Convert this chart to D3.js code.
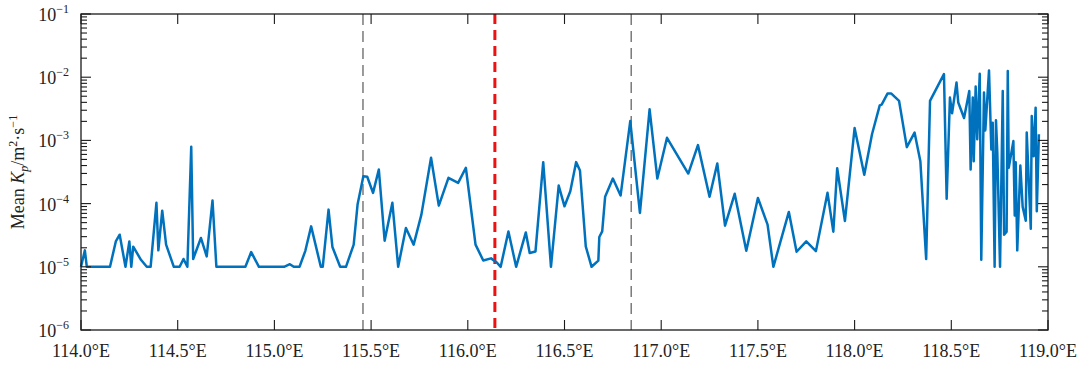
<!DOCTYPE html>
<html><head><meta charset="utf-8">
<script src="https://cdn.jsdelivr.net/npm/d3@7"></script>
<style>
body{margin:0;background:#fff;}
text{font-family:"Liberation Serif","Times New Roman",serif;fill:#222;}
</style></head>
<body><svg id="c" width="1083" height="365"></svg>
<script>
const lon = [114.00,114.02,114.03,114.15,114.18,114.20,114.23,114.25,114.26,114.27,114.31,114.34,114.36,114.39,114.40,114.42,114.44,114.48,114.51,114.53,114.55,114.57,114.58,114.62,114.65,114.68,114.70,114.85,114.88,114.92,115.05,115.08,115.10,115.13,115.16,115.19,115.24,115.25,115.28,115.30,115.34,115.37,115.41,115.43,115.46,115.48,115.51,115.54,115.57,115.61,115.64,115.68,115.72,115.76,115.81,115.85,115.90,115.95,115.99,116.04,116.08,116.12,116.15,116.17,116.21,116.25,116.30,116.32,116.35,116.39,116.43,116.47,116.50,116.53,116.56,116.58,116.61,116.64,116.675,116.68,116.695,116.71,116.75,116.79,116.84,116.89,116.94,116.98,117.03,117.14,117.19,117.25,117.29,117.33,117.38,117.44,117.50,117.55,117.58,117.66,117.70,117.75,117.80,117.86,117.89,117.91,117.95,118.00,118.05,118.09,118.13,118.14,118.17,118.19,118.23,118.27,118.31,118.34,118.37,118.39,118.462,118.476,118.493,118.504,118.527,118.536,118.566,118.593,118.600,118.611,118.616,118.626,118.634,118.647,118.655,118.669,118.676,118.695,118.707,118.714,118.724,118.731,118.738,118.752,118.766,118.773,118.786,118.792,118.797,118.821,118.828,118.833,118.841,118.857,118.869,118.885,118.890,118.911,118.916,118.926,118.936,118.942,118.953];
const kp = [1e-5,1.82e-5,1e-5,1e-5,2.52e-5,3.22e-5,1e-5,2.52e-5,1e-5,2.08e-5,1.29e-5,1e-5,1e-5,1.03e-4,1.82e-5,7.74e-5,2.24e-5,1e-5,1e-5,1.33e-5,1e-5,7.94e-4,1.33e-5,2.86e-5,1.46e-5,1.12e-4,1e-5,1e-5,1.71e-5,1e-5,1e-5,1.1e-5,1e-5,1e-5,1.79e-5,4.36e-5,1e-5,1e-5,8.03e-5,2.06e-5,1e-5,1e-5,2.24e-5,9.64e-5,2.71e-4,2.66e-4,1.48e-4,3.46e-4,2.59e-5,1.03e-4,1e-5,4.11e-5,2.24e-5,6.69e-5,5.31e-4,9.29e-5,2.56e-4,2.13e-4,3.69e-4,2.24e-5,1.26e-5,1.36e-5,1.17e-5,1e-5,3.63e-5,1e-5,3.5e-5,1.65e-5,1.75e-5,4.53e-4,1e-5,1.93e-4,9.06e-5,1.57e-4,4.53e-4,3.34e-4,2.1e-5,1e-5,1.25e-5,2.96e-5,3.63e-5,1.28e-4,2.49e-4,1.34e-4,2.02e-3,7.11e-5,3.1e-3,2.49e-4,1.1e-3,2.99e-4,8.42e-4,1.28e-4,4.31e-4,4.48e-5,1.43e-4,1.79e-5,1.23e-4,4.64e-5,1e-5,7.38e-5,1.73e-5,2.52e-5,1.77e-5,1.48e-4,3.6e-5,3.63e-4,5.31e-5,1.57e-3,2.86e-4,1.25e-3,3.59e-3,3.69e-3,5.51e-3,5.51e-3,4.21e-3,7.83e-4,1.33e-3,4.69e-4,1.33e-5,4.21e-3,1.12e-2,1.19e-4,4.76e-3,2.68e-3,8.24e-3,3.97e-3,2.26e-3,6.06e-3,3.46e-4,4.76e-3,4.69e-4,7.12e-3,1.04e-3,1.13e-2,1.29e-5,5.72e-3,1.44e-3,1.28e-2,7.2e-4,1.91e-3,1e-5,2.08e-3,6.38e-4,1e-5,6.06e-3,3.22e-5,3.6e-5,1.25e-2,3.69e-4,9.75e-4,6.46e-5,4.53e-4,1.82e-5,4.01e-4,8.87e-5,5.37e-5,1.33e-3,4.01e-5,2.43e-3,5.63e-4,3.3e-3,7.55e-5,1.25e-3];
const xTicks = [114.0,114.5,115.0,115.5,116.0,116.5,117.0,117.5,118.0,118.5,119.0];
const yExps = [-6,-5,-4,-3,-2,-1];
const grayLines = [115.458,116.845];
const redLine = [116.14];

const svg = d3.select("#c");
const L=81,R=1048,T=14,B=330;
const x = d3.scaleLinear().domain([114,119]).range([L,R]);
const y = d3.scaleLog().domain([1e-6,1e-1]).range([B,T]);

svg.selectAll(".gl").data(grayLines).enter().append("line")
  .attr("x1",d=>x(d)).attr("x2",d=>x(d)).attr("y1",T).attr("y2",B)
  .attr("stroke","#7a7a7a").attr("stroke-width",1.5).attr("stroke-dasharray","11,6");
svg.selectAll(".rl").data(redLine).enter().append("line")
  .attr("x1",d=>x(d)).attr("x2",d=>x(d)).attr("y1",T).attr("y2",B)
  .attr("stroke","#ee1111").attr("stroke-width",3).attr("stroke-dasharray","10,6");

const pts = lon.map((d,i)=>[d,kp[i]]);
svg.append("path").datum(pts)
  .attr("d",d3.line().x(d=>x(d[0])).y(d=>y(d[1])))
  .attr("fill","none").attr("stroke","#0072BD").attr("stroke-width",2.5).attr("stroke-linejoin","round");

svg.append("rect").attr("x",L).attr("y",T).attr("width",R-L).attr("height",B-T)
  .attr("fill","none").attr("stroke","#1a1a1a").attr("stroke-width",1.3);

const g = svg.append("g").attr("stroke","#1a1a1a").attr("stroke-width",1.1);
xTicks.forEach(t=>{
  g.append("line").attr("x1",x(t)).attr("x2",x(t)).attr("y1",B).attr("y2",B-10);
  g.append("line").attr("x1",x(t)).attr("x2",x(t)).attr("y1",T).attr("y2",T+10);
});
yExps.forEach(e=>{
  const v=Math.pow(10,e);
  [[L,1],[R,-1]].forEach(([x0,s])=>{
    g.append("line").attr("x1",x0).attr("x2",x0+s*10).attr("y1",y(v)).attr("y2",y(v));
    if(e<-1) for(let k=2;k<=9;k++){
      const vv=k*v;
      g.append("line").attr("x1",x0).attr("x2",x0+s*6).attr("y1",y(vv)).attr("y2",y(vv));
    }
  });
});

svg.selectAll(".xl").data(xTicks).enter().append("text")
  .attr("x",d=>x(d)).attr("y",357).attr("text-anchor","middle").attr("font-size",18)
  .text(d=>d.toFixed(1)+"°E");

yExps.forEach(e=>{
  const t=svg.append("text").attr("x",69).attr("y",y(Math.pow(10,e))+7)
    .attr("text-anchor","end").attr("font-size",18);
  t.append("tspan").text("10");
  t.append("tspan").attr("font-size",12).attr("dy",-8).text("\u2212"+(-e));
});

const yl=svg.append("text").attr("transform","translate(24,172) rotate(-90)")
  .attr("text-anchor","middle").attr("font-size",18);
yl.append("tspan").text("Mean ");
yl.append("tspan").attr("font-style","italic").text("K");
yl.append("tspan").attr("font-style","italic").attr("font-size",12).attr("dy",4).text("p");
yl.append("tspan").attr("dy",-4).text("/m");
yl.append("tspan").attr("font-size",12).attr("dy",-7).text("2");
yl.append("tspan").attr("dy",7).text("·s");
yl.append("tspan").attr("font-size",12).attr("dy",-7).text("−1");
</script></body></html>
